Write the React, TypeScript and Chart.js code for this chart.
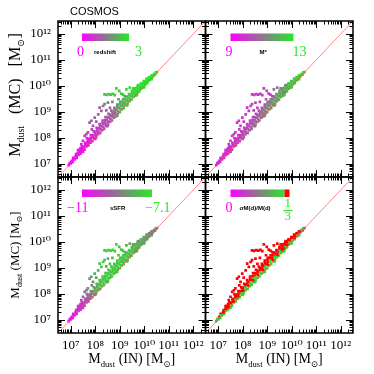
import { useEffect, useRef } from 'react';
import { Chart, registerables } from 'chart.js';

Chart.register(...registerables);

// ---- axis range (log10 of solar masses), same on both axes ----
const AXIS_LOG_MIN = 6.48;
const AXIS_LOG_MAX = 12.5;
const tickDecades = [7, 8, 9, 10, 11, 12];

// ---- galaxies: log10 Mdust (input) ----
const logMdustIN = [
  // band, near 1:1
  6.92, 7.00, 7.08, 7.16, 7.24, 7.32, 7.40, 7.48, 7.56, 7.64, 7.72, 7.80, 7.88, 7.96,
  8.04, 8.12, 8.20, 8.28, 8.36, 8.44, 8.52, 8.60, 8.68, 8.76, 8.84,
  8.92, 9.00, 9.08, 9.16, 9.24, 9.32, 9.40, 9.48, 9.56, 9.64, 9.72, 9.80, 9.88, 9.96, 10.04, 10.12, 10.20, 10.28, 10.36, 10.44, 10.52,
  // band, middle
  6.96, 7.04, 7.12, 7.20, 7.28, 7.36, 7.44, 7.52, 7.60, 7.68, 7.76, 7.84, 7.92,
  8.00, 8.08, 8.16, 8.24, 8.32, 8.40, 8.48, 8.56, 8.64, 8.72, 8.80, 8.88,
  8.96, 9.04, 9.12, 9.20, 9.28, 9.36, 9.44, 9.52, 9.60, 9.68, 9.76, 9.84, 9.92, 10.00, 10.08, 10.16, 10.24, 10.32, 10.40, 10.48,
  // band, upper
  7.10, 7.22, 7.34, 7.46, 7.58, 7.70, 7.82, 7.94,
  8.06, 8.18, 8.30, 8.42, 8.54, 8.66, 8.78, 8.90,
  9.02, 9.14, 9.26, 9.38, 9.50, 9.62, 9.74, 9.86, 9.98, 10.10, 10.22,
  // band, just below
  7.50, 8.00, 8.50, 8.90, 9.30, 9.70, 10.00, 10.30,
  // band, lower-middle
  7.02, 7.12, 7.22, 7.32, 7.42, 7.52, 7.62, 7.72, 7.82, 7.92,
  8.02, 8.12, 8.22, 8.32, 8.42, 8.52, 8.62, 8.72, 8.82, 8.92,
  9.02, 9.12, 9.22, 9.32, 9.42, 9.52, 9.62, 9.72, 9.82, 9.92, 10.02, 10.12, 10.22, 10.32, 10.42,
  // band, upper-middle
  7.30, 7.40, 7.50, 7.60, 7.70, 7.80, 7.90,
  8.00, 8.10, 8.20, 8.30, 8.40, 8.50, 8.60, 8.70, 8.80, 8.90,
  9.00, 9.10, 9.20, 9.30, 9.40, 9.50, 9.60, 9.70, 9.80, 9.90, 10.00, 10.10, 10.20, 10.30,
  // outliers above
  7.43, 7.50, 7.40, 7.57, 7.64, 7.70, 7.66, 7.77, 7.84, 7.91,
  7.98, 7.86, 8.04, 8.18, 8.25, 8.32, 8.38, 8.52, 8.45, 8.60,
  8.38, 8.46, 8.55, 8.63, 8.72, 8.80, 8.86, 8.98, 9.06, 9.13,
  9.27, 9.41, 9.55, 9.68, 9.75, 9.20, 8.95, 8.70, 8.12, 7.30,
];

// ---- log10 Mdust (MC) ----
const logMdustMC = [
  6.94, 7.00, 7.06, 7.17, 7.22, 7.33, 7.38, 7.49, 7.54, 7.66, 7.70, 7.81, 7.86, 7.97,
  8.02, 8.13, 8.18, 8.29, 8.34, 8.45, 8.50, 8.61, 8.66, 8.77, 8.82,
  8.93, 8.98, 9.09, 9.14, 9.25, 9.30, 9.41, 9.46, 9.57, 9.62, 9.73, 9.78, 9.89, 9.94, 10.05, 10.10, 10.21, 10.27, 10.37, 10.43, 10.53,
  7.02, 7.10, 7.19, 7.28, 7.37, 7.46, 7.55, 7.64, 7.73, 7.82, 7.91, 8.00, 8.10,
  8.18, 8.27, 8.36, 8.44, 8.53, 8.61, 8.69, 8.77, 8.84, 8.92, 9.00, 9.08,
  9.16, 9.23, 9.31, 9.38, 9.46, 9.53, 9.60, 9.67, 9.74, 9.81, 9.88, 9.95, 10.02, 10.10, 10.16, 10.24, 10.31, 10.38, 10.45, 10.52,
  7.22, 7.36, 7.52, 7.66, 7.80, 7.95, 8.10, 8.24,
  8.38, 8.52, 8.66, 8.79, 8.92, 9.04, 9.15, 9.27,
  9.38, 9.48, 9.58, 9.68, 9.80, 9.90, 9.99, 10.08, 10.18, 10.28, 10.34,
  7.45, 7.95, 8.44, 8.85, 9.24, 9.65, 9.95, 10.26,
  7.05, 7.16, 7.27, 7.38, 7.48, 7.58, 7.69, 7.80, 7.90, 8.01,
  8.11, 8.22, 8.32, 8.42, 8.52, 8.62, 8.72, 8.82, 8.92, 9.02,
  9.12, 9.22, 9.31, 9.41, 9.50, 9.60, 9.69, 9.79, 9.88, 9.97, 10.07, 10.16, 10.26, 10.35, 10.45,
  7.42, 7.53, 7.64, 7.75, 7.86, 7.98, 8.09,
  8.22, 8.34, 8.45, 8.57, 8.68, 8.79, 8.89, 8.99, 9.09, 9.19,
  9.29, 9.39, 9.48, 9.57, 9.66, 9.74, 9.83, 9.92, 10.00, 10.08, 10.16, 10.24, 10.33, 10.40,
  7.75, 7.88, 7.60, 8.07, 8.13, 8.20, 7.98, 8.58, 8.65, 8.45,
  8.77, 8.32, 8.62, 9.16, 9.03, 9.22, 9.29, 9.35, 9.05, 9.15,
  9.67, 9.65, 9.68, 9.66, 9.69, 9.64, 9.90, 9.80, 9.70, 9.66,
  9.86, 9.93, 9.90, 9.74, 10.03, 9.60, 9.48, 9.38, 8.90, 7.52,
];

// ---- colour attributes ----
const redshift = [
  0.05, 0.1, 0.08, 0.12, 0.15, 0.1, 0.2, 0.15, 0.25, 0.2, 0.3, 0.25, 0.35, 0.4,
  0.6, 0.7, 0.8, 0.75, 0.9, 1.0, 0.9, 1.1, 1.2, 1.3, 1.5,
  2.0, 2.2, 2.4, 2.5, 2.3, 2.6, 2.5, 2.7, 2.6, 2.8, 2.7, 2.8, 2.9, 2.8, 2.9, 3.0, 2.9, 3.0, 2.9, 3.0, 3.0,
  0.1, 0.15, 0.1, 0.2, 0.15, 0.25, 0.2, 0.3, 0.35, 0.3, 0.4, 0.5, 0.55,
  0.7, 0.8, 0.75, 0.9, 1.0, 0.95, 1.1, 1.2, 1.0, 1.3, 1.4, 1.7,
  2.1, 2.3, 2.2, 2.5, 2.4, 2.6, 2.5, 2.7, 2.8, 2.6, 2.8, 2.9, 2.8, 2.9, 3.0, 2.9, 3.0, 3.0, 2.9, 3.0,
  0.15, 0.2, 0.25, 0.3, 0.35, 0.4, 0.5, 0.6,
  0.8, 0.9, 1.0, 1.1, 1.2, 1.0, 1.3, 1.6,
  2.2, 2.4, 2.5, 2.6, 2.7, 2.8, 2.8, 2.9, 2.9, 3.0, 3.0,
  0.2, 0.5, 1.0, 1.9, 2.6, 2.8, 2.9, 3.0,
  0.1, 0.15, 0.12, 0.2, 0.22, 0.25, 0.3, 0.32, 0.4, 0.45,
  0.65, 0.8, 0.85, 0.95, 1.0, 1.1, 1.2, 1.3, 1.4, 1.8,
  2.2, 2.3, 2.5, 2.4, 2.6, 2.7, 2.6, 2.8, 2.7, 2.9, 2.8, 3.0, 2.9, 3.0, 3.0,
  0.2, 0.25, 0.3, 0.35, 0.4, 0.5, 0.6,
  0.7, 0.8, 0.9, 0.95, 1.0, 1.1, 1.2, 1.3, 1.5, 1.9,
  2.2, 2.3, 2.4, 2.5, 2.6, 2.7, 2.6, 2.8, 2.7, 2.9, 2.8, 3.0, 2.9, 3.0,
  0.5, 0.6, 0.4, 0.8, 0.7, 0.9, 0.6, 1.1, 1.2, 1.0,
  1.3, 0.9, 1.1, 1.3, 1.2, 1.4, 1.5, 1.6, 1.2, 1.4,
  2.4, 2.5, 2.6, 2.4, 2.7, 2.5, 2.8, 2.6, 2.7, 2.5,
  2.8, 2.9, 2.7, 2.8, 3.0, 2.2, 2.0, 1.8, 1.1, 0.3,
];

const logMstar = [
  9.7, 9.8, 9.8, 9.9, 9.9, 10.0, 10.0, 10.1, 10.1, 10.2, 10.2, 10.3, 10.3, 10.4,
  10.5, 10.5, 10.6, 10.7, 10.7, 10.8, 10.9, 11.0, 11.0, 11.1, 11.2,
  11.3, 11.4, 11.5, 11.6, 11.7, 11.8, 11.9, 12.0, 12.1, 12.2, 12.3, 12.4, 12.5, 12.6, 12.6, 12.7, 12.8, 12.8, 12.9, 12.9, 13.0,
  9.7, 9.8, 9.8, 9.9, 9.9, 10.0, 10.0, 10.0, 10.1, 10.1, 10.2, 10.2, 10.3,
  10.3, 10.4, 10.4, 10.5, 10.5, 10.6, 10.6, 10.7, 10.8, 10.8, 10.9, 11.0,
  11.1, 11.2, 11.3, 11.4, 11.5, 11.6, 11.7, 11.8, 11.9, 12.0, 12.1, 12.2, 12.3, 12.4, 12.5, 12.5, 12.6, 12.7, 12.8, 12.8,
  9.6, 9.7, 9.7, 9.8, 9.8, 9.9, 9.9, 10.0,
  10.0, 10.1, 10.1, 10.2, 10.3, 10.3, 10.4, 10.6,
  10.8, 11.0, 11.1, 11.3, 11.5, 11.7, 11.9, 12.1, 12.2, 12.4, 12.5,
  10.1, 10.4, 10.8, 11.2, 11.9, 12.4, 12.7, 12.9,
  9.75, 9.8, 9.85, 9.9, 9.95, 10.0, 10.05, 10.1, 10.15, 10.2,
  10.4, 10.45, 10.5, 10.55, 10.6, 10.7, 10.8, 10.9, 11.0, 11.1,
  11.3, 11.4, 11.5, 11.6, 11.8, 11.9, 12.0, 12.1, 12.2, 12.3, 12.5, 12.6, 12.7, 12.8, 12.9,
  9.7, 9.75, 9.8, 9.85, 9.9, 9.95, 10.0,
  10.05, 10.1, 10.2, 10.25, 10.3, 10.4, 10.5, 10.6, 10.7, 10.8,
  10.9, 11.1, 11.2, 11.4, 11.5, 11.7, 11.8, 12.0, 12.1, 12.3, 12.4, 12.5, 12.6, 12.7,
  9.8, 9.9, 9.7, 9.9, 10.0, 9.8, 10.0, 9.9, 10.0, 10.1,
  9.9, 10.0, 10.1, 10.0, 9.9, 10.1, 10.0, 10.2, 10.1, 10.0,
  9.9, 10.0, 10.1, 9.8, 10.0, 10.2, 9.9, 10.1, 10.0, 10.3,
  10.9, 11.0, 11.2, 11.0, 11.3, 10.2, 10.3, 10.1, 10.0, 9.8,
];

const logSSFR = [
  -10.8, -10.6, -10.7, -10.4, -10.5, -10.2, -10.3, -10.0, -9.8, -9.6, -9.9, -9.2, -9.0, -8.6,
  -8.2, -7.8, -8.5, -7.6, -7.7, -8.0, -7.5, -7.6, -7.9, -7.4, -7.6,
  -7.5, -7.8, -7.4, -7.6, -8.2, -7.5, -7.7, -7.9, -7.5, -8.3, -7.6, -8.0, -8.4, -7.8, -8.6, -8.2, -8.8, -8.5, -8.7, -8.9, -8.6,
  -10.7, -10.5, -10.6, -10.3, -10.1, -10.4, -9.9, -9.6, -9.8, -9.3, -9.0, -8.7, -8.3,
  -7.9, -8.4, -7.6, -7.8, -8.1, -7.5, -7.7, -7.6, -8.0, -7.5, -7.4, -7.7,
  -7.6, -7.5, -7.9, -7.4, -7.6, -8.1, -7.5, -7.8, -7.6, -8.2, -7.7, -7.9, -8.3, -7.8, -8.5, -8.1, -8.6, -8.4, -8.8, -8.6,
  -10.4, -10.2, -10.0, -9.7, -9.5, -9.2, -8.8, -8.4,
  -8.0, -7.7, -7.6, -7.8, -7.5, -7.7, -7.6, -7.5,
  -7.6, -7.4, -7.7, -7.5, -7.9, -7.6, -8.0, -8.3, -8.1, -8.5, -8.6,
  -10.0, -8.8, -7.7, -7.5, -7.8, -8.2, -8.5, -8.8,
  -10.7, -10.5, -10.4, -10.2, -10.1, -9.9, -9.7, -9.4, -9.1, -8.6,
  -8.1, -7.8, -7.9, -7.6, -7.7, -7.5, -7.8, -7.6, -7.5, -7.7,
  -7.6, -7.9, -7.5, -7.7, -8.0, -7.6, -7.9, -8.2, -7.8, -8.4, -8.3, -8.6, -8.5, -8.7, -8.8,
  -10.3, -10.1, -9.9, -9.6, -9.3, -9.0, -8.6,
  -8.2, -7.9, -7.7, -7.6, -7.8, -7.5, -7.6, -7.7, -7.5, -7.6,
  -7.5, -7.7, -7.6, -7.8, -7.5, -7.9, -7.7, -8.1, -8.0, -8.3, -8.4, -8.5, -8.7, -8.8,
  -9.8, -9.5, -10.2, -9.0, -8.8, -8.9, -9.3, -8.6, -8.4, -8.7,
  -8.0, -8.8, -8.2, -7.6, -7.8, -7.5, -7.7, -7.6, -8.0, -7.8,
  -7.5, -7.4, -7.6, -7.5, -7.4, -7.6, -7.5, -7.7, -7.6, -7.8,
  -8.3, -8.1, -8.5, -8.2, -8.6, -7.7, -7.6, -7.8, -8.1, -10.0,
];

const errRatio = [
  0.2, 0.3, 0.32, 0.3, 0.31, 0.29, 0.32, 0.3, 0.31, 0.33, 0.3, 0.32, 0.31, 0.3,
  0.32, 0.3, 0.31, 0.33, 0.3, 0.32, 0.31, 0.3, 0.32, 0.31, 0.3,
  0.32, 0.31, 0.3, 0.33, 0.31, 0.3, 0.32, 0.31, 0.3, 0.32, 0.31, 0.3, 0.32, 0.31, 0.3, 0.28, 0.25, 0.3, 0.22, 0.2, 0.18,
  0.3, 0.45, 0.31, 0.5, 0.3, 0.6, 0.32, 0.55, 0.5, 0.31, 0.6, 0.5, 0.7,
  0.6, 0.3, 0.7, 0.55, 0.65, 0.31, 0.6, 0.7, 0.5, 0.8, 0.6, 0.65,
  0.55, 0.7, 0.32, 0.6, 0.75, 0.5, 0.65, 0.3, 0.6, 0.7, 0.5, 0.31, 0.6, 0.55, 0.3, 0.5, 0.32, 0.45, 0.3, 0.25,
  0.5, 0.6, 0.7, 0.6, 0.8, 0.7, 0.9, 0.6,
  0.8, 0.7, 0.9, 0.6, 0.8, 0.7, 0.9, 0.75,
  0.8, 0.6, 0.9, 0.7, 0.8, 0.6, 0.7, 0.5, 0.6, 0.5, 0.45,
  0.3, 0.32, 0.31, 0.3, 0.32, 0.31, 0.29, 0.26,
  0.3, 0.31, 0.5, 0.32, 0.55, 0.3, 0.6, 0.31, 0.5, 0.32,
  0.6, 0.31, 0.55, 0.3, 0.65, 0.32, 0.5, 0.31, 0.6, 0.3,
  0.55, 0.32, 0.5, 0.31, 0.6, 0.3, 0.45, 0.32, 0.5, 0.3, 0.31, 0.4, 0.3, 0.25, 0.22,
  0.5, 0.6, 0.45, 0.7, 0.55, 0.6, 0.7,
  0.65, 0.6, 0.75, 0.5, 0.7, 0.6, 0.8, 0.55, 0.7, 0.65,
  0.6, 0.7, 0.5, 0.65, 0.6, 0.7, 0.55, 0.6, 0.5, 0.45, 0.5, 0.4, 0.38, 0.36,
  0.8, 0.9, 0.7, 0.8, 0.9, 0.6, 0.8, 0.7, 0.9, 0.8,
  0.7, 0.8, 0.9, 0.6, 0.8, 0.7, 0.9, 0.8, 0.7, 0.8,
  0.9, 0.8, 0.7, 0.8, 0.9, 0.6, 0.8, 0.7, 0.9, 0.8,
  0.7, 0.8, 0.9, 0.6, 0.8, 0.7, 0.9, 0.8, 0.7, 0.8,
];

// ---- colour-bar texts / ranges ----
const colorbarNames = ['redshift', 'M*', 'sSFR', 'σM(d)/M(d)'];
const colorbarLow = ['0', '9', '−11', '0'];
const colorbarHigh = ['3', '13', '−7.1', '1/3'];
const colorbarRange = [[0, 3], [9, 13], [-11, -7.1], [0, 1 / 3]];
const panelAttributes = [redshift, logMstar, logSSFR, errRatio];

// ---- styling ----
const MAG = [255, 0, 255];
const MID = [140, 118, 140];
const GRN = [40, 232, 40];
const RED = 'rgb(255,0,0)';
const SERIF = '"Liberation Serif", "DejaVu Serif", serif';
const SANS = '"Liberation Sans", "DejaVu Sans", sans-serif';

function mix(a: number[], b: number[], f: number) {
  return `rgb(${Math.round(a[0] + (b[0] - a[0]) * f)},${Math.round(a[1] + (b[1] - a[1]) * f)},${Math.round(a[2] + (b[2] - a[2]) * f)})`;
}
function cmap(t: number) {
  const c = Math.max(0, Math.min(1, t));
  return c < 0.5 ? mix(MAG, MID, c / 0.5) : mix(MID, GRN, (c - 0.5) / 0.5);
}

// panel placement (which scales) and colour-bar layout offsets
const PANELS = [
  { x: 'xL', y: 'yT', bar: [24, 71], lowX: 19, nameX: 36, highX: 77 },
  { x: 'xR', y: 'yT', bar: [25, 88], lowX: 20, nameX: 54, highX: 87 },
  { x: 'xL', y: 'yB', bar: [24, 94], lowX: 9, nameX: 52, highX: 87 },
  { x: 'xR', y: 'yB', bar: [25, 79], redBar: [79, 84], lowX: 20, nameX: 34, highX: 78 },
];

const SUP: Record<string, string> = { '0': '⁰', '1': '¹', '2': '²', '3': '³', '4': '⁴', '5': '⁵', '6': '⁶', '7': '⁷', '8': '⁸', '9': '⁹' };
function powLabel(v: number) {
  const e = Math.round(Math.log10(v));
  return '10' + String(e).split('').map((d) => SUP[d]).join('');
}

type Part = [string, boolean];
function drawRich(ctx: CanvasRenderingContext2D, parts: Part[], cx: number, cy: number, size: number, rotate: boolean) {
  const sub = size * 0.62;
  const widths = parts.map(([t, s]) => {
    ctx.font = `${s ? sub : size}px ${SERIF}`;
    return ctx.measureText(t).width;
  });
  const total = widths.reduce((a, b) => a + b, 0);
  ctx.save();
  ctx.translate(cx, cy);
  if (rotate) ctx.rotate(-Math.PI / 2);
  ctx.fillStyle = '#000';
  ctx.textBaseline = 'alphabetic';
  ctx.textAlign = 'left';
  let x = -total / 2;
  parts.forEach(([t, s], i) => {
    ctx.font = `${s ? sub : size}px ${SERIF}`;
    ctx.fillText(t, x, size * 0.35 + (s ? size * 0.3 : 0));
    x += widths[i];
  });
  ctx.restore();
}

const framePlugin = {
  id: 'frame',
  afterDraw(chart: any) {
    const ctx: CanvasRenderingContext2D = chart.ctx;
    ctx.save();
    PANELS.forEach((p, i) => {
      const xs = chart.scales[p.x];
      const ys = chart.scales[p.y];
      const L = xs.left, R = xs.right, T = ys.top, B = ys.bottom;
      // tick marks on all four sides
      ctx.strokeStyle = '#000';
      ctx.lineWidth = 1;
      ctx.beginPath();
      for (let e = 6; e <= 12; e++) {
        for (let m = 1; m <= 9; m++) {
          const v = m * Math.pow(10, e);
          const len = m === 1 ? 7 : 3.5;
          if (v >= xs.min && v <= xs.max) {
            const px = Math.round(xs.getPixelForValue(v)) + 0.5;
            ctx.moveTo(px, B); ctx.lineTo(px, B - len);
            ctx.moveTo(px, T); ctx.lineTo(px, T + len);
          }
          if (v >= ys.min && v <= ys.max) {
            const py = Math.round(ys.getPixelForValue(v)) + 0.5;
            ctx.moveTo(L, py); ctx.lineTo(L + len, py);
            ctx.moveTo(R, py); ctx.lineTo(R - len, py);
          }
        }
      }
      ctx.stroke();
      ctx.lineWidth = 1.5;
      ctx.strokeRect(L, T, R - L, B - T);

      // colour bar
      const bx0 = L + p.bar[0], bx1 = L + p.bar[1];
      const by = T + 12.5, bh = 7.5;
      const g = ctx.createLinearGradient(bx0, 0, bx1, 0);
      g.addColorStop(0, cmap(0));
      g.addColorStop(0.5, cmap(0.5));
      g.addColorStop(1, cmap(1));
      ctx.fillStyle = g;
      ctx.fillRect(bx0, by, bx1 - bx0, bh);
      if (p.redBar) {
        ctx.fillStyle = RED;
        ctx.fillRect(L + p.redBar[0], by, p.redBar[1] - p.redBar[0], bh);
      }
      // colour bar texts
      const ty = T + 31;
      ctx.textBaseline = 'middle';
      ctx.textAlign = 'left';
      ctx.font = `14px ${SERIF}`;
      ctx.fillStyle = cmap(0);
      ctx.fillText(colorbarLow[i], L + p.lowX, ty);
      ctx.fillStyle = cmap(1);
      const hi = colorbarHigh[i];
      if (hi.includes('/')) {
        const [num, den] = hi.split('/');
        const hx = L + p.highX;
        ctx.font = `13px ${SERIF}`;
        ctx.fillText(num, hx + 1, T + 27);
        ctx.fillText(den, hx + 1, T + 40);
        ctx.fillRect(hx, T + 33, 9, 1.2);
      } else {
        ctx.fillText(hi, L + p.highX, ty);
      }
      ctx.fillStyle = '#000';
      ctx.font = `bold 6px ${SANS}`;
      ctx.fillText(colorbarNames[i], L + p.nameX, ty);
    });

    // figure title
    ctx.fillStyle = '#000';
    ctx.textAlign = 'left';
    ctx.textBaseline = 'middle';
    ctx.font = `11px ${SANS}`;
    ctx.fillText('COSMOS', chart.scales.xL.left + 12, 12);

    // axis titles
    const yT = chart.scales.yT, yB = chart.scales.yB, xL = chart.scales.xL, xR = chart.scales.xR;
    drawRich(ctx, [['M', false], ['dust', true], ['   (MC)   [M', false], ['⊙', true], [']', false]], 14, (yT.top + yT.bottom) / 2 - 4, 16, true);
    drawRich(ctx, [['M', false], ['dust', true], [' (MC) [M', false], ['⊙', true], [']', false]], 14, (yB.top + yB.bottom) / 2, 13, true);
    const xtitle: Part[] = [['M', false], ['dust', true], [' (IN) [M', false], ['⊙', true], [']', false]];
    drawRich(ctx, xtitle, (xL.left + xL.right) / 2, 358, 14, false);
    drawRich(ctx, xtitle, (xR.left + xR.right) / 2, 358, 14, false);
    ctx.restore();
  },
};

function logAxis(position: string, stack: string, weight: number) {
  const horizontal = position === 'bottom';
  return {
    type: 'logarithmic',
    position,
    stack,
    stackWeight: 1,
    weight,
    min: Math.pow(10, AXIS_LOG_MIN),
    max: Math.pow(10, AXIS_LOG_MAX),
    grid: { display: false, drawTicks: false },
    border: { display: false },
    ticks: {
      autoSkip: false,
      maxRotation: 0,
      padding: horizontal ? 5 : 7,
      color: '#000',
      font: { family: SERIF, size: 13 },
      callback: (v: number) => powLabel(v),
    },
    afterBuildTicks: (scale: any) => {
      scale.ticks = tickDecades.map((e) => ({ value: Math.pow(10, e) }));
    },
    afterFit: (scale: any) => {
      if (horizontal) scale.height = 41;
      else scale.width = 58;
    },
  };
}

export default function App() {
  const ref = useRef<HTMLCanvasElement>(null);
  useEffect(() => {
    if (!ref.current) return;
    const points = logMdustIN.map((lx, i) => ({ x: Math.pow(10, lx), y: Math.pow(10, logMdustMC[i]) }));
    const lineData = [
      { x: Math.pow(10, AXIS_LOG_MIN), y: Math.pow(10, AXIS_LOG_MIN) },
      { x: Math.pow(10, AXIS_LOG_MAX), y: Math.pow(10, AXIS_LOG_MAX) },
    ];
    const lines = PANELS.map((p) => ({
      data: lineData,
      showLine: true,
      pointRadius: 0,
      borderColor: 'rgba(255,70,70,0.8)',
      borderWidth: 0.8,
      xAxisID: p.x,
      yAxisID: p.y,
    }));
    const scatters = PANELS.map((p, i) => {
      const [lo, hi] = colorbarRange[i];
      const colors = panelAttributes[i].map((v) =>
        i === 3 && v > hi ? RED : cmap((v - lo) / (hi - lo)),
      );
      return {
        data: points,
        pointStyle: 'rect',
        pointRadius: 1.9,
        borderWidth: 0,
        pointBorderWidth: 0,
        backgroundColor: colors,
        pointBackgroundColor: colors,
        xAxisID: p.x,
        yAxisID: p.y,
      };
    });
    const chart = new Chart(ref.current, {
      type: 'scatter',
      data: { datasets: [...lines, ...scatters] as any },
      options: {
        animation: false,
        responsive: false,
        layout: { padding: { top: 21, right: 21, left: 0, bottom: 0 } },
        plugins: { legend: { display: false }, tooltip: { enabled: false } },
        scales: {
          xL: logAxis('bottom', 'h', 0),
          xR: logAxis('bottom', 'h', 0),
          yT: logAxis('left', 'v', 1),
          yB: logAxis('left', 'v', 0),
        } as any,
      },
      plugins: [framePlugin],
    });
    return () => chart.destroy();
  }, []);
  return (
    <div style={{ position: 'fixed', left: 0, top: 0, width: 374, height: 374, background: '#fff' }}>
      <canvas ref={ref} width={374} height={374} style={{ display: 'block' }} />
    </div>
  );
}
